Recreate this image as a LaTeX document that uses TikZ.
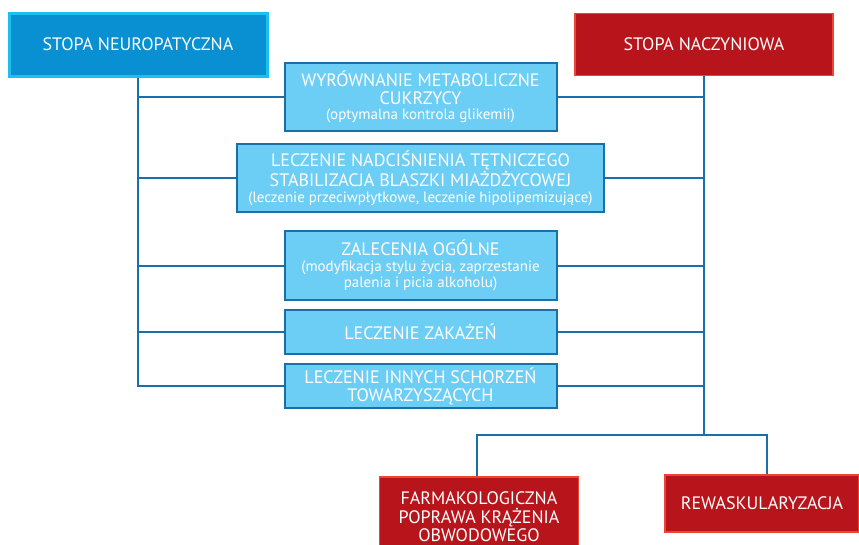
\documentclass[tikz,border=0pt]{standalone}
\usepackage{fontspec}
\setmainfont{PT Sans}
\definecolor{headblue}{HTML}{0890D2}
\definecolor{headblueedge}{HTML}{1CC0F0}
\definecolor{lightfill}{HTML}{6DCEF5}
\definecolor{lightedge}{HTML}{1B6FA8}
\definecolor{linecol}{HTML}{1A6FAA}
\definecolor{redfill}{HTML}{B7151B}
\definecolor{rededge}{HTML}{EE4433}
\tikzset{
  headbox/.style={draw=headblueedge, line width=3pt, fill=headblue, text=white, inner sep=0pt, align=center, font=\fontsize{18}{18}\selectfont},
  redbox/.style={draw=rededge, line width=1.6pt, fill=redfill, text=white, inner sep=0pt, align=center, font=\fontsize{18}{18.5}\selectfont},
  lightbox/.style={draw=lightedge, line width=2pt, fill=lightfill, text=white, inner sep=0pt, align=center, font=\fontsize{18}{18}\selectfont},
  conn/.style={draw=linecol, line width=2pt},
}
\newcommand{\sub}[1]{{\fontsize{15}{15}\selectfont #1}}
\begin{document}
\begin{tikzpicture}[x=1pt,y=-1pt]
\useasboundingbox (0,0) rectangle (859,544);
\clip (0,0) rectangle (859,544);
\fill[white] (0,0) rectangle (859,544);
\node[headbox, minimum width=258pt, minimum height=63pt] (neuro) at (138,44.5) {STOPA NEUROPATYCZNA};
\node[redbox, minimum width=258pt, minimum height=62pt] (nacz) at (704,44.5) {STOPA NACZYNIOWA};
\node[lightbox, minimum width=272pt, minimum height=68pt] (b1) at (420.5,96.5) {WYRÓWNANIE METABOLICZNE\\CUKRZYCY\\[-3pt]\sub{(optymalna kontrola glikemii)}};
\node[lightbox, minimum width=367pt, minimum height=68pt] (b2) at (420.5,178) {LECZENIE NADCIŚNIENIA TĘTNICZEGO\\STABILIZACJA BLASZKI MIAŻDŻYCOWEJ\\[-2pt]\sub{(leczenie przeciwpłytkowe, leczenie hipolipemizujące)}};
\node[lightbox, minimum width=272pt, minimum height=69pt] (b3) at (420.5,265.5) {ZALECENIA OGÓLNE\\[-2pt]\sub{(modyfikacja stylu życia, zaprzestanie}\\[-2pt]\sub{palenia i picia alkoholu)}};
\node[lightbox, minimum width=272pt, minimum height=44pt] (b4) at (420.5,332) {LECZENIE ZAKAŻEŃ};
\node[lightbox, minimum width=272pt, minimum height=44pt] (b5) at (420.5,386) {LECZENIE INNYCH SCHORZEŃ\\TOWARZYSZĄCYCH};
\node[redbox, minimum width=199pt, minimum height=80pt, anchor=north] (farm) at (479,476) {FARMAKOLOGICZNA\\POPRAWA KRĄŻENIA\\OBWODOWEGO};
\node[redbox, minimum width=194pt, minimum height=57pt] (rew) at (762,503.5) {REWASKULARYZACJA};
\coordinate (split) at (704,435);
\draw[conn] (neuro.south) |- (b5.west);
\foreach \b in {b1,b2,b3,b4} {\draw[conn] (\b.west) -- (\b.west -| neuro.south);}
\foreach \b in {b1,b2,b3,b4,b5} {\draw[conn] (\b.east) -- (\b.east -| nacz.south);}
\draw[conn] (nacz.south) -- (split);
\draw[conn] ([xshift=-2pt]farm.north) |- (split) -| ([xshift=5pt]rew.north);
\end{tikzpicture}
\end{document}
